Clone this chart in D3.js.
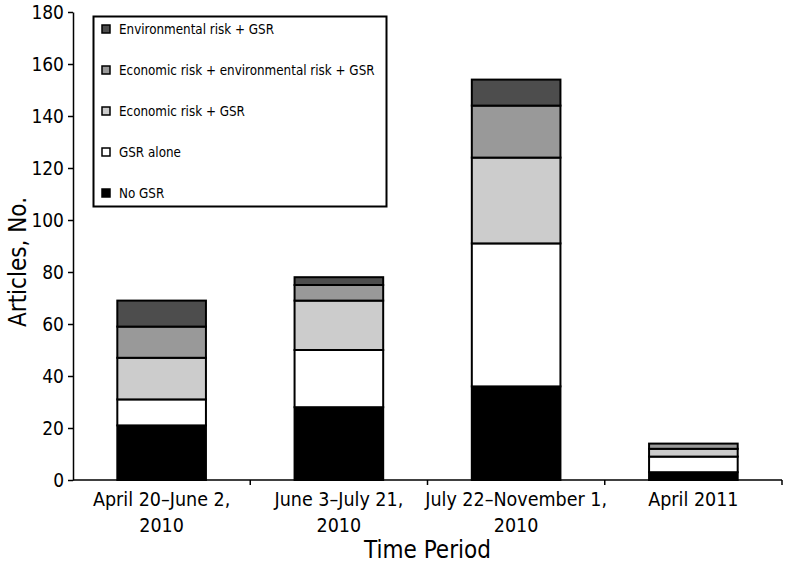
<!DOCTYPE html>
<html><head><meta charset="utf-8">
<script src="https://cdn.jsdelivr.net/npm/d3@7"></script>
<style>body{margin:0;background:#fff}svg{display:block}text{font-family:"DejaVu Sans Condensed","DejaVu Sans",sans-serif;font-stretch:condensed}</style>
</head><body><svg id="c" width="785" height="565"></svg>
<script>
const categories = [["April 20–June 2,", "2010"], ["June 3–July 21,", "2010"], ["July 22–November 1,", "2010"], ["April 2011"]];
const seriesNames = ["No GSR", "GSR alone", "Economic risk + GSR", "Economic risk + environmental risk + GSR", "Environmental risk + GSR"];
const noGSR = [21, 28, 36, 3];
const gsrAlone = [10, 22, 55, 6];
const economicGSR = [16, 19, 33, 3];
const econEnvGSR = [12, 6, 20, 2];
const envGSR = [10, 3, 10, 0];
const yTicks = [0, 20, 40, 60, 80, 100, 120, 140, 160, 180];
const colors = ["#000000", "#ffffff", "#cccccc", "#999999", "#4d4d4d"];

const series = [noGSR, gsrAlone, economicGSR, econEnvGSR, envGSR];
const data = categories.map((c, i) => {
  const o = {key: i};
  seriesNames.forEach((s, j) => o[s] = series[j][i]);
  return o;
});
const stack = d3.stack().keys(seriesNames)(data);

const svg = d3.select("#c");
const m = {l: 73, r: 3, t: 12, b: 85};
const W = 785, H = 565;
const x = d3.scaleBand().domain(d3.range(categories.length)).range([m.l, W - m.r]).paddingInner(0.5).paddingOuter(0.25);
const y = d3.scaleLinear().domain([0, 180]).range([H - m.b, m.t]);

// bars
const g = svg.append("g");
stack.forEach((layer, j) => {
  g.selectAll(null).data(layer.filter(d => d[1] - d[0] > 0)).join("rect")
    .attr("x", (d, i) => x(d.data.key))
    .attr("width", x.bandwidth())
    .attr("y", d => y(d[1]))
    .attr("height", d => y(d[0]) - y(d[1]))
    .attr("fill", colors[j])
    .attr("stroke", "#000").attr("stroke-width", 2);
});

// y axis
const ya = svg.append("g").attr("transform", `translate(${m.l},0)`)
  .call(d3.axisLeft(y).tickValues(yTicks).tickSize(5).tickSizeOuter(0));
ya.select(".domain").attr("stroke", "#000").attr("stroke-width", 1.5);
ya.selectAll(".tick line").attr("stroke-width", 1.5);
ya.selectAll(".tick text").attr("font-size", 19).attr("fill", "#000").attr("x", -9)
  .attr("font-family", null);

// x axis
const xa = svg.append("g").attr("transform", `translate(0,${y(0)})`);
xa.append("line").attr("x1", m.l).attr("x2", W - m.r).attr("stroke", "#000").attr("stroke-width", 1.5);
const bounds = d3.range(categories.length + 1).map(i => m.l + i * (W - m.r - m.l) / categories.length);
xa.selectAll("line.tk").data(bounds.slice(1)).join("line").attr("class", "tk")
  .attr("x1", d => d).attr("x2", d => d).attr("y1", 0).attr("y2", 5).attr("stroke", "#000").attr("stroke-width", 1.5);
xa.selectAll("text.cl").data(categories).join("text").attr("class", "cl")
  .attr("x", (d, i) => x(i) + x.bandwidth() / 2).attr("y", 26)
  .attr("text-anchor", "middle").attr("font-size", 19.5)
  .selectAll("tspan").data(d => d).join("tspan")
  .attr("x", function() { return d3.select(this.parentNode).attr("x"); })
  .attr("dy", (d, i) => i === 0 ? 0 : 26).text(d => d);

// axis titles
svg.append("text").attr("x", (m.l + W - m.r) / 2).attr("y", 558).attr("text-anchor", "middle")
  .attr("font-size", 24).text("Time Period");
svg.append("text").attr("transform", "translate(26,262) rotate(-90)").attr("text-anchor", "middle")
  .attr("font-size", 24).text("Articles, No.");

// legend
const lg = svg.append("g");
lg.append("rect").attr("x", 93.5).attr("y", 16.5).attr("width", 293).attr("height", 190)
  .attr("fill", "#fff").attr("stroke", "#000").attr("stroke-width", 2);
const legendOrder = [4, 3, 2, 1, 0];
legendOrder.forEach((j, k) => {
  const cy = 29 + k * 41;
  lg.append("rect").attr("x", 102).attr("y", cy - 4).attr("width", 8).attr("height", 8)
    .attr("fill", colors[j]).attr("stroke", "#000").attr("stroke-width", 1.5);
  lg.append("text").attr("x", 119).attr("y", cy + 5).attr("font-size", 13.3).text(seriesNames[j]);
});
</script></body></html>
